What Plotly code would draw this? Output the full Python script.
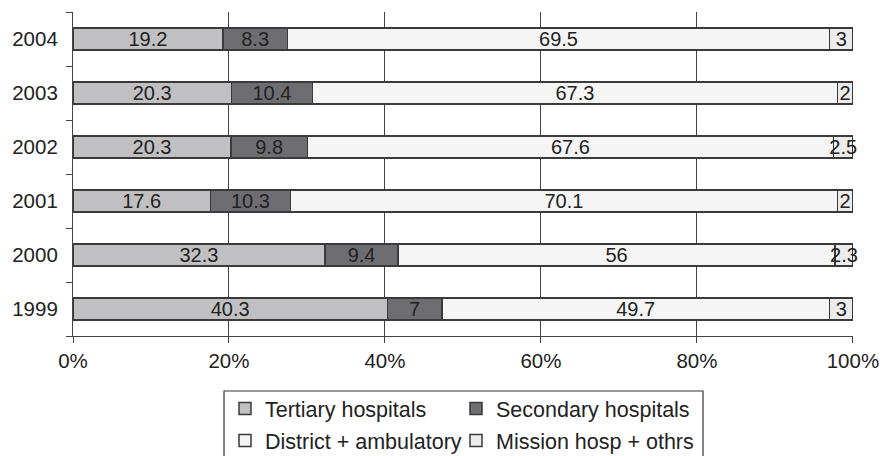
import plotly.graph_objects as go

years = ["1999", "2000", "2001", "2002", "2003", "2004"]
tertiary = [40.3, 32.3, 17.6, 20.3, 20.3, 19.2]
secondary = [7, 9.4, 10.3, 9.8, 10.4, 8.3]
district = [49.7, 56, 70.1, 67.6, 67.3, 69.5]
mission = [3, 2.3, 2, 2.5, 2, 3]
x_ticks = [0, 20, 40, 60, 80, 100]

series = [
    ("Tertiary hospitals", tertiary, "#c0c0c3", "legend"),
    ("Secondary hospitals", secondary, "#6e6e72", "legend2"),
    ("District + ambulatory", district, "#f5f5f5", "legend"),
    ("Mission hosp + othrs", mission, "#ececec", "legend2"),
]

FONT = "Liberation Sans, Arial, Helvetica, sans-serif"
W, H = 882, 456

fig = go.Figure()
for i, (name, vals, color, lg) in enumerate(series):
    fig.add_trace(go.Bar(
        name=name, y=years, x=vals, orientation="h",
        marker=dict(color=color, line=dict(color="#3a3a3a", width=1.5)),
        text=[f"{v:g}" for v in vals], textposition="inside",
        insidetextanchor="middle", textangle=0, constraintext="none",
        cliponaxis=False,
        textfont=dict(family=FONT, size=20, color="#222222"),
        width=0.41, legend=lg, legendgroup=f"g{i}",
    ))

leg_common = dict(xanchor="left", yanchor="top", xref="container", yref="container",
                  orientation="v", bgcolor="rgba(0,0,0,0)", borderwidth=0,
                  traceorder="grouped", tracegroupgap=1,
                  font=dict(family=FONT, size=21.5, color="#222222"))

fig.update_layout(
    width=W, height=H,
    margin=dict(l=73, r=29, t=12, b=120, autoexpand=False),
    barmode="stack", barnorm="percent",
    plot_bgcolor="white", paper_bgcolor="white",
    font=dict(family=FONT, size=20, color="#222222"),
    showlegend=True,
    legend=dict(x=225 / W, y=1 - 388 / H, **leg_common),
    legend2=dict(x=456 / W, y=1 - 388 / H, **leg_common),
    shapes=[dict(type="rect", xref="paper", yref="paper",
                 x0=0.1936, x1=0.8077, y0=-0.1698, y1=-0.42,
                 line=dict(color="#333333", width=1.2), fillcolor="rgba(0,0,0,0)",
                 layer="below")],
)

fig.update_xaxes(
    range=[0, 100.01], tickvals=x_ticks, ticktext=[f"{v}%" for v in x_ticks],
    showgrid=True, gridcolor="#444444", gridwidth=1,
    showline=True, linecolor="#444444", linewidth=1.2,
    ticks="outside", ticklen=6, tickcolor="#444444",
    zeroline=False, tickfont=dict(family=FONT, size=20.5, color="#222222"),
)
fig.update_yaxes(
    type="category", categoryorder="array", categoryarray=years,
    showgrid=False, showline=True, linecolor="#444444", linewidth=1.2,
    ticks="outside", ticklen=6, tickcolor="#444444", tickson="boundaries",
    ticklabelstandoff=10,
    tickfont=dict(family=FONT, size=20.5, color="#222222"),
)

fig.write_html("out.html", config={"displayModeBar": False},
               post_script="document.body.style.margin='0';")
